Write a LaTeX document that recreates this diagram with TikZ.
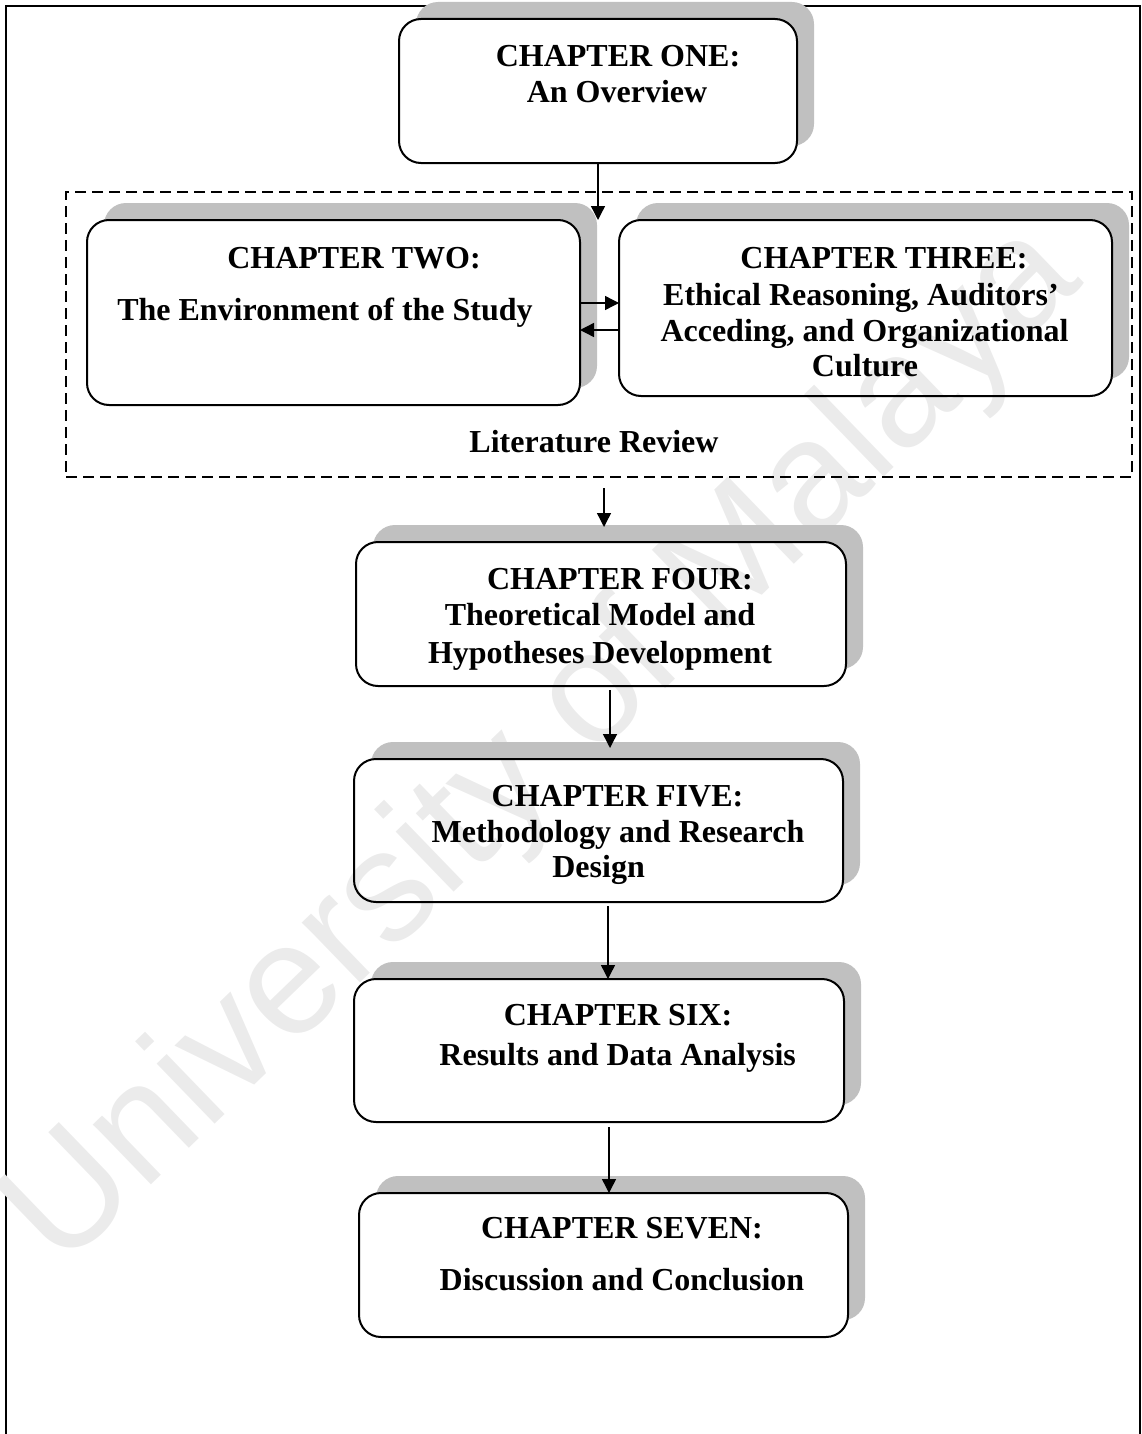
\documentclass[tikz,border=0pt]{standalone}
\usepackage{fontspec}
\setmainfont{Liberation Serif}
\newfontfamily\wmfont{Liberation Sans}
\usetikzlibrary{arrows.meta}
\pgfdeclarelayer{bg}
\pgfdeclarelayer{wm}
\pgfdeclarelayer{sh}
\pgfsetlayers{bg,wm,sh,main}
\definecolor{shadowc}{RGB}{192,192,192}
\definecolor{wmc}{RGB}{235,235,235}
\tikzset{
  chbox/.style={draw, line width=1pt, rounded corners=11pt, inner sep=0pt, outer sep=0pt},
  litbox/.style={draw, line width=1pt, dash pattern=on 5.5pt off 3pt, inner sep=0pt, outer sep=0pt},
  txt/.style={anchor=base, inner sep=0pt, font=\bfseries\fontsize{16pt}{19pt}\selectfont},
  arr/.style={line width=0.7pt, -{Triangle[length=7pt,width=7pt]}},
  frameline/.style={line width=1pt},
  wmtext/.style={rotate=44, text=wmc, inner sep=0pt, font=\wmfont\fontsize{79pt}{86pt}\selectfont},
}
\newcommand{\boxshadow}[1]{%
  \begin{pgfonlayer}{sh}
    \begin{scope}[even odd rule]
      \clip (0,0) rectangle (1141,1434) [rounded corners=11pt] (#1.south east) rectangle (#1.north west);
      \fill[shadowc, rounded corners=11pt] ([shift={(17,-17)}]#1.north west) rectangle ([shift={(17,-17)}]#1.south east);
    \end{scope}
  \end{pgfonlayer}}
\begin{document}
\begin{tikzpicture}[x=0.5pt,y=-0.5pt]
\useasboundingbox (0,0) rectangle (1141,1434);

% outer frame
\begin{pgfonlayer}{bg}
  \draw[frameline] (6,1434) -- (6,6) -- (1139.5,6) -- (1139.5,1434);
\end{pgfonlayer}

% watermark
\begin{pgfonlayer}{wm}
  \node[wmtext] (wmark) at (545,748) {University of Malaya};
\end{pgfonlayer}

% chapter boxes
\node[chbox, minimum width=199pt, minimum height=72pt] (b1) at (598,91) {};
\node[chbox, minimum width=246.5pt, minimum height=92.5pt] (b2) at (333.5,312.5) {};
\node[chbox, minimum width=246.5pt, minimum height=88pt] (b3) at (865.5,308) {};
\node[chbox, minimum width=245pt, minimum height=72pt] (b4) at (601,614) {};
\node[chbox, minimum width=244.5pt, minimum height=71.5pt] (b5) at (598.5,830.5) {};
\node[chbox, minimum width=245pt, minimum height=71.5pt] (b6) at (599,1050.5) {};
\node[chbox, minimum width=244.5pt, minimum height=72pt] (b7) at (603.5,1265) {};

\boxshadow{b1}
\boxshadow{b2}
\boxshadow{b3}
\boxshadow{b4}
\boxshadow{b5}
\boxshadow{b6}
\boxshadow{b7}

% literature review group
\node[litbox, minimum width=533pt, minimum height=142.5pt] (lr) at (599,334.5) {};

% texts
\node[txt] (t1a) at (618,67) {CHAPTER ONE:};
\node[txt] (t1b) at (617,103) {An Overview};
\node[txt] (t2a) at (354,268) {CHAPTER TWO:};
\node[txt] (t2b) at (325,320) {The Environment of the Study};
\node[txt] (t3a) at (884,268) {CHAPTER THREE:};
\node[txt] (t3b) at (861,305) {Ethical Reasoning, Auditors’};
\node[txt] (t3c) at (864.5,341) {Acceding, and Organizational};
\node[txt] (t3d) at (865,376) {Culture};
\node[txt] (lit) at (594,452) {Literature Review};
\node[txt] (t4a) at (620,589) {CHAPTER FOUR:};
\node[txt] (t4b) at (600,625.5) {Theoretical Model and};
\node[txt] (t4c) at (600,663.5) {Hypotheses Development};
\node[txt] (t5a) at (617.5,806.5) {CHAPTER FIVE:};
\node[txt] (t5b) at (618,842) {Methodology and Research};
\node[txt] (t5c) at (598.6,877) {Design};
\node[txt] (t6a) at (618,1025) {CHAPTER SIX:};
\node[txt] (t6b) at (617.7,1065) {Results and Data Analysis};
\node[txt] (t7a) at (622,1238) {CHAPTER SEVEN:};
\node[txt] (t7b) at (622,1290) {Discussion and Conclusion};

% connector end points
\coordinate (c1) at (598,220);
\coordinate (c2) at (604,527);
\coordinate (c3) at (610,748);
\coordinate (c4) at (608,979);
\coordinate (c5) at (609,1193);

% connectors
\draw[arr] (b1.south -| c1) -- (c1);
\draw[arr] ([yshift=4.75pt]b2.east) coordinate (s1) -- (s1 -| b3.west);
\draw[arr] ([yshift=-11pt]b3.west) coordinate (s2) -- (s2 -| b2.east);
\draw[arr, shorten <=5.5pt] (lr.south -| c2) -- (c2);
\draw[arr, shorten <=2pt] (b4.south -| c3) -- (c3);
\draw[arr, shorten <=2pt] (b5.south -| c4) -- (c4);
\draw[arr, shorten <=2.5pt] (b6.south -| c5) -- (c5);
\end{tikzpicture}
\end{document}
